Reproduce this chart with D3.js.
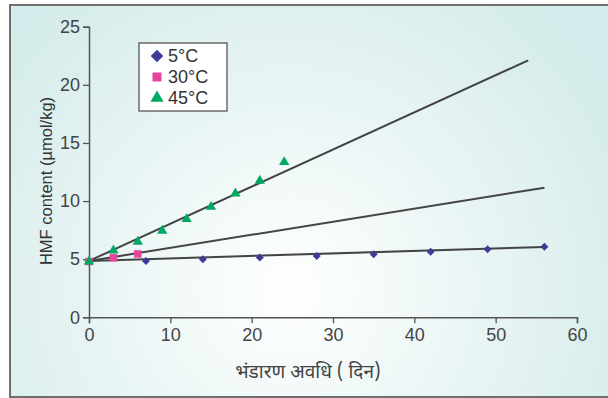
<!DOCTYPE html>
<html>
  <head>
    <meta charset="UTF-8" />
    <style>
      body {
        margin: 0;
        background: #fff;
      }
      svg {
        display: block;
        font-family: "Liberation Sans", Arial, sans-serif;
      }
    </style>
  </head>
  <body>
    <svg></svg>
    <script src="https://d3js.org/d3.v7.min.js"></script>

    <script>
      let width = 608,
        height = 398;

      // data
      const days5 = [0, 7, 14, 21, 28, 35, 42, 49, 56];
      const hmf5 = [4.8, 4.85, 5.0, 5.15, 5.27, 5.42, 5.63, 5.85, 6.08];
      const days30 = [0, 3, 6];
      const hmf30 = [4.8, 5.12, 5.45];
      const days45 = [0, 3, 6, 9, 12, 15, 18, 21, 24];
      const hmf45 = [4.8, 5.75, 6.5, 7.45, 8.45, 9.5, 10.65, 11.75, 13.35];
      // fitted lines: [day, value] ends
      const fit5 = [[0, 4.85], [56, 6.05]];
      const fit30 = [[0, 4.85], [56, 11.15]];
      const fit45 = [[0, 4.85], [54, 22.1]];

      const xTicks = [0, 10, 20, 30, 40, 50, 60];
      const yTicks = [0, 5, 10, 15, 20, 25];
      const legendNames = ["5°C", "30°C", "45°C"];

      let svg = d3.select("svg").attr("width", width).attr("height", height);

      // soft radial background
      let defs = svg.append("defs");
      let grad = defs
        .append("radialGradient")
        .attr("id", "bg")
        .attr("gradientUnits", "userSpaceOnUse")
        .attr("cx", 290)
        .attr("cy", 290)
        .attr("r", 380);
      grad.append("stop").attr("offset", "0%").attr("stop-color", "#ffffff");
      grad.append("stop").attr("offset", "100%").attr("stop-color", "#d3ebea");

      svg
        .append("rect")
        .attr("x", 10)
        .attr("y", 5)
        .attr("width", 610)
        .attr("height", 392)
        .attr("fill", "url(#bg)")
        .attr("stroke", "#6f6f6f")
        .attr("stroke-width", 2);

      let x = d3.scaleLinear().domain([0, 60]).range([89, 577]);
      let y = d3.scaleLinear().domain([0, 25]).range([317.3, 26.7]);

      // axes
      let xAxis = svg
        .append("g")
        .attr("transform", "translate(0," + y(0) + ")")
        .call(d3.axisBottom(x).tickValues(xTicks).tickSize(6).tickPadding(5));
      let yAxis = svg
        .append("g")
        .attr("transform", "translate(" + x(0) + ",0)")
        .call(d3.axisLeft(y).tickValues(yTicks).tickSize(6).tickPadding(3));

      [xAxis, yAxis].forEach((a) => {
        a.select(".domain").attr("stroke", "#555").attr("stroke-width", 1.5);
        a.selectAll(".tick line").attr("stroke", "#555").attr("stroke-width", 1.3);
        a.selectAll("text")
          .attr("fill", "#444")
          .style("font-size", "18px")
          .style("font-family", "'Liberation Sans', Arial, sans-serif");
      });

      // fitted lines
      let line = d3
        .line()
        .x((d) => x(d[0]))
        .y((d) => y(d[1]));
      svg
        .append("g")
        .selectAll("path")
        .data([fit5, fit30, fit45])
        .enter()
        .append("path")
        .attr("d", line)
        .attr("fill", "none")
        .attr("stroke", "#444")
        .attr("stroke-width", 2);

      // markers (diamond = square turned 45deg)
      const series = [
        { days: days5, vals: hmf5, sym: d3.symbolSquare, rot: 45, size: 32, lsize: 80, color: "#3e3b98" },
        { days: days30, vals: hmf30, sym: d3.symbolSquare, rot: 0, size: 56, lsize: 81, color: "#e5459a" },
        { days: days45, vals: hmf45, sym: d3.symbolTriangle, rot: 0, size: 46, lsize: 75, color: "#00a862" },
      ];

      series.forEach((s) => {
        svg
          .append("g")
          .selectAll("path")
          .data(s.days.map((d, i) => [d, s.vals[i]]))
          .enter()
          .append("path")
          .attr("transform", (d) => "translate(" + x(d[0]) + "," + y(d[1]) + ") rotate(" + s.rot + ")")
          .attr("d", d3.symbol().type(s.sym).size(s.size))
          .attr("fill", s.color);
      });

      // legend
      let legend = svg.append("g").attr("id", "legend");
      legend
        .append("rect")
        .attr("x", 139)
        .attr("y", 43)
        .attr("width", 88)
        .attr("height", 68)
        .attr("fill", "white")
        .attr("stroke", "#555")
        .attr("stroke-width", 1.3);

      legend
        .selectAll("path")
        .data(series)
        .enter()
        .append("path")
        .attr("transform", (d, i) => "translate(157," + (56 + i * 21) + ") rotate(" + d.rot + ")")
        .attr("d", (d) => d3.symbol().type(d.sym).size(d.lsize)())
        .attr("fill", (d) => d.color);

      legend
        .selectAll("text")
        .data(legendNames)
        .enter()
        .append("text")
        .attr("x", 168)
        .attr("y", (d, i) => 56 + i * 21)
        .attr("dy", "0.36em")
        .attr("fill", "#333")
        .style("font-size", "18px")
        .text((d) => d);

      // axis titles
      svg
        .append("text")
        .attr("transform", "translate(52,181) rotate(-90)")
        .attr("text-anchor", "middle")
        .attr("fill", "#333")
        .style("font-size", "16.5px")
        .text("HMF content (µmol/kg)");

      svg
        .append("text")
        .attr("x", 308)
        .attr("y", 378)
        .attr("text-anchor", "middle")
        .attr("fill", "#444")
        .style("font-size", "19px")
        .style("font-family", "'Noto Sans Devanagari', 'Lohit Devanagari', 'Noto Sans', sans-serif")
        .text("भंडारण अवधि ( दिन)");
    </script>
  </body>
</html>
